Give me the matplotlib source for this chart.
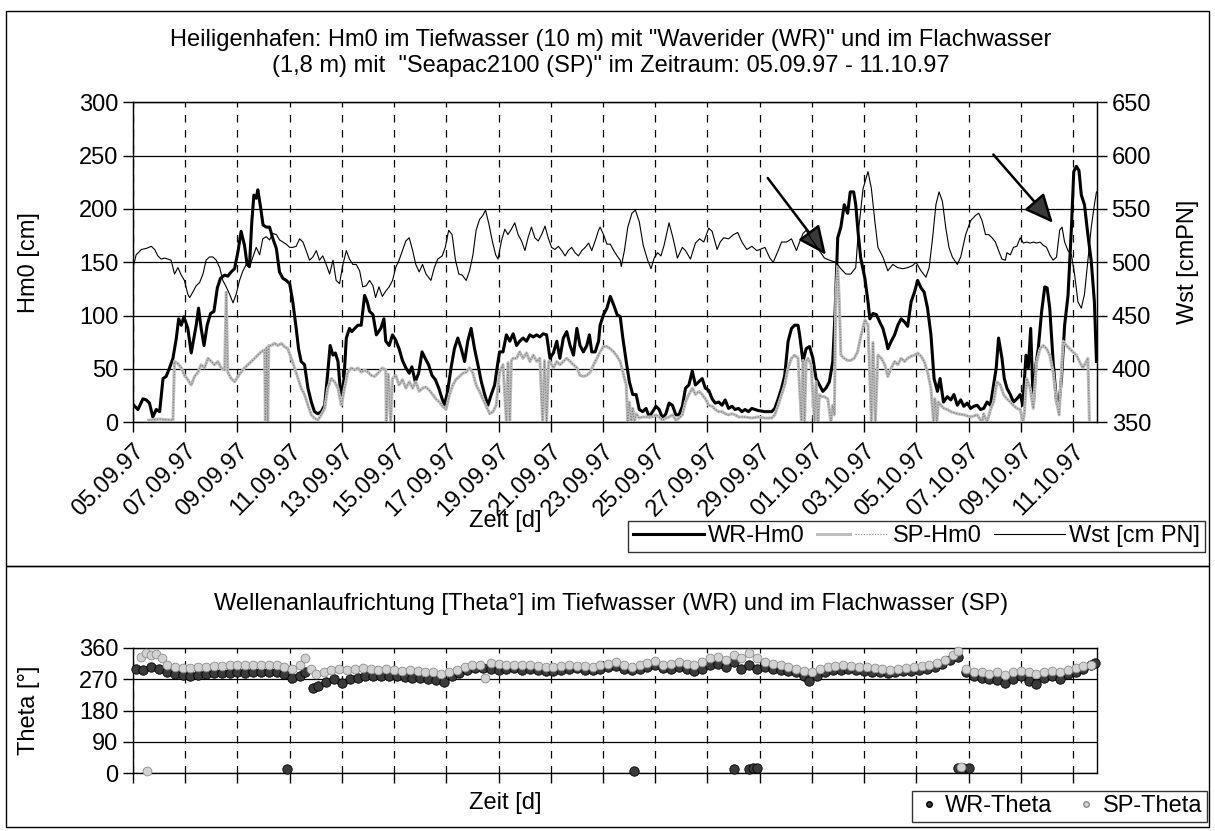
import matplotlib
matplotlib.use("Agg")
import matplotlib.pyplot as plt
from matplotlib.lines import Line2D
from matplotlib.patches import Rectangle
from matplotlib.legend_handler import HandlerTuple

plt.rcParams['font.family'] = ['Liberation Sans', 'DejaVu Sans']
FS = 17

# time axis: days after 05.09.97 00:00, labelled every second day
tick_days = list(range(0, 37, 2))
date_labels = ["05.09.97", "07.09.97", "09.09.97", "11.09.97", "13.09.97",
               "15.09.97", "17.09.97", "19.09.97", "21.09.97", "23.09.97",
               "25.09.97", "27.09.97", "29.09.97", "01.10.97", "03.10.97",
               "05.10.97", "07.10.97", "09.10.97", "11.10.97"]

# Hm0 Waverider (deep water, 10 m) [cm]
wr_t = [0.03, 0.19, 0.38, 0.51, 0.63, 0.76, 0.89, 1.02, 1.15, 1.27,
        1.40, 1.53, 1.66, 1.75, 1.85, 1.95, 2.10, 2.23, 2.36, 2.42,
        2.51, 2.61, 2.72, 2.84, 2.97, 3.10, 3.23, 3.35, 3.51, 3.63,
        3.76, 3.89, 4.02, 4.14, 4.27, 4.37, 4.46, 4.55, 4.63, 4.72,
        4.78, 4.89, 4.98, 5.10, 5.23, 5.36, 5.49, 5.61, 5.74, 5.87,
        6.00, 6.12, 6.25, 6.34, 6.44, 6.57, 6.70, 6.83, 6.95, 7.08,
        7.21, 7.34, 7.46, 7.55, 7.66, 7.75, 7.85, 7.98, 8.08, 8.17,
        8.29, 8.38, 8.49, 8.61, 8.74, 8.87, 8.97, 9.06, 9.19, 9.32,
        9.49, 9.61, 9.68, 9.81, 9.94, 10.06, 10.19, 10.32, 10.45, 10.58,
        10.68, 10.81, 10.94, 11.07, 11.19, 11.32, 11.45, 11.58, 11.71, 11.84,
        11.93, 12.05, 12.18, 12.31, 12.44, 12.57, 12.70, 12.82, 12.95, 13.08,
        13.21, 13.34, 13.47, 13.59, 13.72, 13.85, 13.98, 14.04, 14.17, 14.30,
        14.43, 14.56, 14.69, 14.81, 14.94, 15.07, 15.20, 15.33, 15.46, 15.58,
        15.71, 15.84, 15.97, 16.10, 16.23, 16.35, 16.48, 16.61, 16.74, 16.87,
        17.00, 17.12, 17.25, 17.38, 17.48, 17.57, 17.70, 17.83, 17.89, 18.02,
        18.15, 18.28, 18.41, 18.54, 18.66,
        18.76, 18.89, 19.01, 19.14, 19.27, 19.39, 19.52, 19.65, 19.77, 19.90,
        20.03, 20.15, 20.28, 20.41, 20.53, 20.66, 20.79, 20.91, 21.04, 21.16,
        21.29, 21.42, 21.54, 21.67, 21.80, 21.92, 22.05, 22.18, 22.30, 22.43,
        22.56, 22.68, 22.81, 22.94, 23.06, 23.19, 23.32, 23.44, 23.57, 23.70,
        23.82, 23.95, 24.20, 24.46, 24.58, 24.71, 24.84, 24.96, 25.09, 25.22,
        25.34, 25.47, 25.53, 25.66, 25.78, 25.91, 26.04, 26.16, 26.29, 26.42,
        26.54, 26.67, 26.80, 26.89, 26.99, 27.11, 27.24, 27.37, 27.47, 27.60,
        27.68, 27.77, 27.87,
        28.03, 28.15, 28.22, 28.34, 28.47, 28.60, 28.72, 28.85, 28.91, 29.04,
        29.17, 29.29, 29.42, 29.55, 29.67, 29.80, 29.93, 30.05, 30.18, 30.30,
        30.43, 30.56, 30.68, 30.81, 30.91, 31.04, 31.19, 31.32, 31.44, 31.57,
        31.70, 31.82, 31.95, 32.08, 32.20, 32.33, 32.46, 32.58, 32.71, 32.84,
        32.94, 33.06, 33.15, 33.28, 33.37, 33.47, 33.60, 33.72, 33.85, 33.98,
        34.08, 34.20, 34.29, 34.38, 34.48, 34.58, 34.67, 34.80, 34.92, 35.01,
        35.11, 35.24, 35.37, 35.47, 35.56, 35.68, 35.81, 35.94, 36.03, 36.13,
        36.23, 36.32, 36.44, 36.57, 36.70, 36.82, 36.90]
wr_hm0 = [16, 12, 22, 21, 18, 5, 12, 10, 41, 43,
          51, 60, 79, 97, 91, 99, 88, 65, 83, 91,
          107, 88, 72, 91, 102, 104, 126, 135, 138, 137,
          141, 144, 160, 179, 166, 148, 146, 188, 213, 210,
          218, 201, 185, 183, 183, 172, 163, 141, 135, 133,
          130, 113, 88, 69, 57, 54, 32, 19, 10, 8,
          10, 16, 47, 72, 63, 65, 57, 19, 41, 79,
          88, 85, 88, 91, 91, 119, 113, 104, 101, 82,
          88, 97, 76, 72, 82, 77, 69, 58, 51, 46,
          52, 38, 46, 66, 60, 54, 44, 40, 32, 22,
          16, 29, 51, 69, 79, 69, 57, 76, 88, 69,
          54, 38, 26, 16, 26, 35, 57, 66, 66, 82,
          76, 83, 72, 76, 79, 76, 82, 80, 82, 80,
          83, 82, 60, 65, 76, 60, 79, 85, 72, 63,
          88, 72, 66, 72, 82, 66, 66, 76, 91, 101,
          107, 118, 110, 101, 99,
          79, 57, 38, 26, 26, 12, 10, 13, 5, 10,
          15, 12, 4, 8, 18, 16, 7, 7, 15, 32,
          35, 48, 35, 38, 41, 32, 30, 22, 18, 19,
          16, 21, 13, 15, 12, 13, 10, 12, 10, 13,
          12, 11, 10, 10, 13, 22, 32, 44, 76, 88,
          91, 91, 82, 57, 69, 71, 60, 41, 35, 29,
          32, 38, 57, 104, 173, 183, 204, 196, 216, 216,
          204, 178, 154,
          135, 113, 97, 102, 101, 94, 88, 76, 69, 76,
          82, 91, 97, 94, 90, 113, 122, 133, 126, 122,
          107, 82, 41, 29, 41, 19, 24, 21, 26, 16,
          21, 15, 18, 13, 15, 16, 12, 13, 19, 16,
          32, 51, 79, 60, 41, 32, 26, 19, 22, 26,
          16, 63, 51, 88, 16, 54, 69, 104, 127, 126,
          107, 57, 19, 19, 41, 91, 119, 182, 235, 240,
          236, 213, 204, 176, 151, 113, 57]

# Hm0 Seapac2100 (shallow water, 1.8 m) [cm]; zeros are data gaps
sp_t = [0.60, 1.00, 1.53, 1.59, 1.72, 1.85, 1.97, 2.10, 2.23, 2.36,
        2.49, 2.61, 2.74, 2.87, 3.00, 3.12, 3.25, 3.38, 3.51, 3.57,
        3.63, 3.76, 3.89, 4.02, 4.14, 4.27, 4.40, 4.53, 4.66, 4.78,
        4.91, 5.04, 5.07, 5.12, 5.16, 5.20, 5.29, 5.42, 5.55, 5.68,
        5.80, 5.93, 6.06, 6.19, 6.32, 6.44, 6.57, 6.70, 6.83, 6.95,
        7.08, 7.21, 7.34, 7.46, 7.59, 7.72, 7.85, 7.98, 8.10, 8.23,
        8.36, 8.49, 8.61, 8.74, 8.87, 9.00, 9.12, 9.25,
        9.42, 9.55, 9.68, 9.70, 9.78, 9.87, 9.94, 10.06, 10.19, 10.32,
        10.45, 10.58, 10.71, 10.83, 10.96, 11.09, 11.22, 11.35, 11.48, 11.60,
        11.73, 11.86, 11.99, 12.12, 12.25, 12.37, 12.50, 12.63, 12.76, 12.89,
        13.02, 13.14, 13.27, 13.40, 13.53, 13.66, 13.79, 13.91, 14.04, 14.17,
        14.30, 14.36, 14.43, 14.49, 14.56, 14.69, 14.81, 14.94, 15.07, 15.20,
        15.33, 15.46, 15.58, 15.69, 15.76, 15.84, 15.92, 15.97, 16.10, 16.23,
        16.35, 16.48, 16.61, 16.74, 16.87, 17.00, 17.12, 17.25, 17.38, 17.51,
        17.64, 17.77, 17.89, 18.02, 18.15, 18.28, 18.41, 18.54, 18.66,
        18.76, 18.89, 18.95, 19.01, 19.08, 19.14, 19.20, 19.27, 19.39, 19.52,
        19.65, 19.77, 19.90, 20.03, 20.15, 20.28, 20.41, 20.53, 20.66, 20.79,
        20.91, 21.04, 21.16, 21.29, 21.42, 21.54, 21.67, 21.80, 21.92, 22.05,
        22.18, 22.30, 22.43, 22.56, 22.68, 22.81, 22.94, 23.06, 23.19, 23.44,
        23.70, 23.95, 24.20, 24.46, 24.58, 24.71, 24.84, 24.96, 25.09, 25.22,
        25.34, 25.47, 25.60, 25.66, 25.72, 25.78, 25.85, 25.97, 26.10, 26.16,
        26.23, 26.29, 26.35, 26.48, 26.61, 26.73, 26.80, 26.86, 26.92, 26.99,
        27.05, 27.11, 27.24, 27.37, 27.49, 27.62, 27.75, 27.87,
        28.03, 28.15, 28.28, 28.34, 28.43, 28.53, 28.66, 28.79, 28.91, 29.04,
        29.17, 29.29, 29.42, 29.55, 29.67, 29.80, 29.93, 30.05, 30.18, 30.30,
        30.43, 30.56, 30.66, 30.71, 30.79, 30.84, 30.94, 31.06, 31.19, 31.32,
        31.57, 31.82, 32.08, 32.33, 32.52, 32.58, 32.71, 32.84, 32.96, 33.09,
        33.22, 33.34, 33.47, 33.60, 33.72, 33.85, 33.98, 34.08, 34.13, 34.23,
        34.36, 34.48, 34.61, 34.74, 34.86, 34.99, 35.11, 35.24, 35.37, 35.47,
        35.62, 35.75, 35.87, 36.00, 36.13, 36.25, 36.38, 36.51, 36.57, 36.63]
sp_hm0 = [2, 3, 2, 57, 55, 51, 44, 40, 35, 43,
          47, 54, 51, 60, 57, 54, 57, 51, 49, 122,
          47, 41, 38, 43, 47, 51, 54, 57, 60, 63,
          66, 68, 0, 70, 0, 72, 72, 74, 72, 74,
          71, 69, 60, 51, 41, 32, 26, 16, 7, 4,
          2, 7, 13, 32, 41, 38, 32, 16, 32, 47,
          51, 49, 51, 47, 49, 47, 44, 43,
          47, 51, 49, 0, 45, 0, 41, 44, 35, 40,
          32, 38, 32, 38, 29, 32, 33, 30, 26, 22,
          19, 15, 12, 26, 35, 40, 43, 46, 47, 51,
          46, 35, 29, 22, 15, 8, 10, 16, 47, 54,
          0, 56, 0, 58, 60, 60, 66, 60, 65, 57,
          63, 57, 60, 0, 58, 0, 57, 57, 51, 57,
          54, 57, 60, 57, 54, 51, 44, 43, 44, 47,
          54, 60, 66, 71, 71, 69, 66, 62, 57,
          47, 35, 0, 19, 0, 13, 0, 8, 4, 5,
          5, 5, 5, 7, 5, 2, 4, 5, 7, 2,
          4, 7, 19, 26, 32, 26, 29, 26, 22, 16,
          15, 12, 10, 10, 8, 7, 8, 7, 5, 5,
          4, 5, 4, 4, 7, 16, 26, 35, 51, 60,
          63, 60, 0, 58, 0, 57, 60, 54, 0, 38,
          0, 26, 24, 24, 22, 0, 16, 7, 119, 147,
          113, 63, 60, 58, 58, 60, 66, 80,
          96, 91, 0, 75, 0, 63, 60, 54, 43, 51,
          57, 54, 60, 57, 60, 62, 63, 65, 62, 57,
          47, 32, 0, 22, 0, 19, 16, 13, 12, 10,
          8, 7, 5, 7, 0, 8, 0, 12, 19, 38,
          35, 26, 22, 19, 16, 13, 12, 0, 7, 41,
          32, 13, 57, 69, 72, 69, 63, 47, 19, 7,
          76, 72, 69, 66, 63, 57, 51, 57, 60, 0]

# water level [cm PN]
wst_t = [0.03, 0.12, 0.32, 0.51, 0.70, 0.83, 0.95, 1.08, 1.21, 1.34,
         1.46, 1.59, 1.72, 1.85, 1.97, 2.10, 2.17, 2.29, 2.42, 2.55,
         2.68, 2.80, 2.93, 3.06, 3.19, 3.32, 3.44, 3.57, 3.70, 3.83,
         3.95, 4.08, 4.21, 4.34, 4.46, 4.55, 4.72, 4.85, 4.97, 5.10,
         5.23, 5.36, 5.49, 5.61, 5.74, 5.87, 6.00, 6.12, 6.25, 6.38,
         6.51, 6.63, 6.76, 6.89, 7.02, 7.14, 7.27, 7.40, 7.53, 7.66,
         7.78, 7.91, 8.04, 8.17, 8.29, 8.42, 8.55, 8.68, 8.80, 8.93,
         9.06, 9.19, 9.29,
         9.42, 9.55, 9.68, 9.81, 9.94, 10.06, 10.19, 10.32, 10.45, 10.58,
         10.71, 10.83, 10.96, 11.09, 11.22, 11.41, 11.54, 11.67, 11.84, 11.96,
         12.09, 12.22, 12.35, 12.48, 12.61, 12.76, 12.89, 13.02, 13.14, 13.27,
         13.40, 13.50, 13.63, 13.76, 13.89, 13.98, 14.11, 14.24, 14.36, 14.49,
         14.62, 14.75, 14.88, 15.01, 15.13, 15.26, 15.39, 15.52, 15.65, 15.78,
         15.90, 16.03, 16.16, 16.29, 16.42, 16.55, 16.67, 16.80, 16.93, 17.06,
         17.19, 17.32, 17.45, 17.57, 17.70, 17.83, 17.89, 18.02, 18.15, 18.28,
         18.41, 18.54, 18.66,
         18.70, 18.82, 18.95, 19.11, 19.24, 19.39, 19.54, 19.71, 19.84, 19.96,
         20.09, 20.22, 20.34, 20.53, 20.68, 20.85, 21.04, 21.16, 21.35, 21.54,
         21.70, 21.86, 22.05, 22.18, 22.37, 22.49, 22.62, 22.81, 23.00, 23.16,
         23.32, 23.51, 23.70, 23.89, 24.01, 24.20, 24.39, 24.52, 24.71, 24.84,
         25.03, 25.22, 25.41, 25.53, 25.66, 25.78, 25.97, 26.23, 26.48, 26.67,
         26.92, 27.11, 27.30, 27.49, 27.68,
         27.77, 27.96, 28.15, 28.28, 28.41, 28.53, 28.72, 28.91, 29.10, 29.29,
         29.48, 29.67, 29.86, 29.99, 30.18, 30.37, 30.49, 30.62, 30.75, 30.87,
         31.00, 31.13, 31.25, 31.38, 31.57, 31.70, 31.89, 32.08, 32.27, 32.39,
         32.52, 32.65, 32.77, 32.90, 33.03, 33.15, 33.28, 33.41, 33.47, 33.60,
         33.72, 33.85, 33.98, 34.10, 34.23, 34.36, 34.48, 34.61, 34.74, 34.86,
         34.99, 35.11, 35.24, 35.37, 35.49, 35.58, 35.68, 35.81, 35.94, 36.06,
         36.19, 36.32, 36.44, 36.57, 36.70, 36.82, 36.90]
wst = [498, 507, 512, 513, 515, 512, 506, 503, 504, 503,
       502, 489, 495, 488, 483, 470, 467, 472, 478, 481,
       489, 502, 505, 505, 502, 495, 483, 477, 470, 462,
       470, 483, 492, 498, 495, 502, 514, 507, 522, 524,
       521, 527, 526, 521, 519, 517, 514, 514, 515, 522,
       519, 511, 502, 505, 511, 502, 506, 498, 489, 502,
       483, 480, 498, 511, 503, 498, 498, 492, 477, 478,
       483, 478, 467,
       477, 468, 473, 477, 483, 495, 502, 511, 520, 523,
       511, 498, 491, 498, 489, 483, 495, 503, 506, 514,
       530, 526, 502, 489, 488, 483, 492, 507, 530, 540,
       544, 549, 536, 520, 507, 503, 520, 531, 526, 531,
       537, 526, 520, 511, 523, 533, 523, 520, 526, 534,
       523, 514, 512, 515, 511, 506, 511, 514, 509, 506,
       511, 514, 518, 511, 520, 530, 533, 526, 517, 517,
       511, 506, 502,
       496, 511, 533, 546, 549, 538, 516, 502, 494, 504,
       509, 506, 516, 537, 523, 504, 514, 511, 503, 518,
       522, 519, 532, 529, 512, 519, 523, 522, 526, 528,
       519, 512, 515, 511, 512, 514, 504, 500, 511, 519,
       519, 522, 511, 519, 527, 530, 522, 513, 504, 502,
       500, 494, 489, 489, 495,
       526, 569, 585, 569, 539, 514, 505, 492, 498, 495,
       494, 495, 497, 500, 492, 486, 495, 522, 554, 566,
       557, 532, 514, 505, 498, 505, 526, 539, 544, 546,
       539, 526, 526, 523, 519, 511, 503, 502, 509, 507,
       514, 515, 523, 518, 519, 518, 519, 518, 519, 516,
       514, 507, 502, 505, 530, 533, 519, 511, 507, 489,
       463, 457, 470, 502, 533, 554, 566]

# wave direction Theta [deg]
wr_theta_t = [0.1, 0.4, 0.7, 1.0, 1.3, 1.6, 1.9, 2.2, 2.5, 2.8,
              3.1, 3.4, 3.7, 4.0, 4.3, 4.6, 4.9, 5.2, 5.5, 5.8,
              6.1, 6.4, 6.6, 6.9, 7.1, 7.4, 7.7, 8.0, 8.3, 8.6,
              8.9, 9.2, 9.5, 9.8, 10.1, 10.4, 10.7, 11.0, 11.3, 11.6,
              11.9, 12.2, 12.5, 12.8, 13.1, 13.4, 13.7, 14.0, 14.3, 14.6,
              14.9, 15.2, 15.5, 15.8, 16.1, 16.4, 16.7, 17.0, 17.3, 17.6,
              17.9, 18.2, 18.5, 18.8, 19.1, 19.4, 19.7, 20.0, 20.3, 20.6,
              20.9, 21.2, 21.5, 21.8, 22.1, 22.4, 22.7, 23.0, 23.3, 23.6,
              23.9, 24.2, 24.5, 24.8, 25.1, 25.4, 25.7, 25.9, 26.2, 26.5,
              26.8, 27.1, 27.4, 27.7, 28.0, 28.3, 28.6, 28.9, 29.2, 29.5,
              29.8, 30.1, 30.4, 30.7, 31.0, 31.3, 31.6, 31.9, 32.2, 32.5,
              32.8, 33.1, 33.4, 33.7, 34.0, 34.3, 34.6, 34.9, 35.2, 35.5,
              35.8, 36.1, 36.4, 36.7, 36.85,
              5.9, 19.2, 23.0, 23.6, 23.75, 23.9, 31.6, 31.8, 32.0]
wr_theta = [300, 298, 306, 300, 292, 285, 282, 280, 283, 286,
            287, 289, 288, 290, 289, 291, 290, 292, 290, 285,
            275, 280, 292, 245, 250, 262, 270, 258, 272, 275,
            278, 280, 279, 278, 278, 276, 275, 273, 271, 268,
            263, 278, 288, 296, 302, 303, 300, 298, 300, 301,
            298, 300, 296, 293, 295, 297, 300, 302, 298, 296,
            300, 305, 308, 300, 296, 300, 305, 310, 302, 300,
            305, 300, 295, 300, 310, 315, 305, 320, 300, 310,
            300, 305, 300, 298, 295, 290, 280, 265, 280, 292,
            296, 298, 300, 298, 295, 292, 290, 288, 290, 293,
            295, 298, 300, 305, 315, 325, 335, 290, 280, 275,
            270, 268, 260, 270, 278, 265, 255, 275, 280, 270,
            285, 290, 300, 310, 318,
            12, 5, 12, 12, 14, 13, 15, 15, 15]

sp_theta_t = [0.3, 0.5, 0.7, 0.9, 1.1, 1.3, 1.6, 1.9, 2.2, 2.5,
              2.8, 3.1, 3.4, 3.7, 4.0, 4.3, 4.6, 4.9, 5.2, 5.5,
              5.8, 6.1, 6.4, 6.6, 6.8, 7.0, 7.3, 7.6, 7.9, 8.2,
              8.5, 8.8, 9.1, 9.4, 9.7, 10.0, 10.3, 10.6, 10.9, 11.2,
              11.5, 11.8, 12.1, 12.4, 12.7, 13.0, 13.3, 13.5, 13.7, 14.0,
              14.3, 14.6, 14.9, 15.2, 15.5, 15.8, 16.1, 16.4, 16.7, 17.0,
              17.3, 17.6, 17.9, 18.2, 18.5, 18.8, 19.1, 19.4, 19.7, 20.0,
              20.3, 20.6, 20.9, 21.2, 21.5, 21.8, 22.1, 22.4, 22.7, 23.0,
              23.3, 23.6, 23.9, 24.2, 24.5, 24.8, 25.1, 25.4, 25.7, 26.0,
              26.3, 26.6, 26.9, 27.2, 27.5, 27.8, 28.1, 28.4, 28.7, 29.0,
              29.3, 29.6, 29.9, 30.2, 30.5, 30.8, 31.1, 31.4, 31.6, 31.9,
              32.2, 32.5, 32.8, 33.1, 33.4, 33.7, 34.0, 34.3, 34.6, 34.9,
              35.2, 35.5, 35.8, 36.1, 36.4, 36.7,
              0.55, 31.7]
sp_theta = [335, 345, 340, 343, 330, 310, 305, 303, 302, 305,
            305, 308, 308, 310, 310, 311, 312, 310, 312, 310,
            305, 300, 310, 330, 300, 285, 290, 298, 300, 296,
            300, 302, 300, 298, 300, 298, 295, 296, 294, 292,
            290, 285, 290, 298, 305, 310, 312, 275, 318, 315,
            312, 311, 310, 310, 307, 305, 306, 308, 310, 309,
            308, 306, 310, 315, 320, 310, 305, 310, 318, 322,
            312, 315, 320, 315, 310, 320, 330, 335, 325, 340,
            330, 345, 330, 320, 315, 310, 305, 300, 295, 290,
            300, 305, 308, 310, 308, 306, 305, 303, 300, 298,
            300, 302, 304, 308, 312, 318, 325, 340, 350, 300,
            292, 290, 285, 290, 282, 290, 295, 290, 285, 292,
            295, 290, 298, 302, 308, 312,
            5, 18]

# arrows marking the two storm events (Hm0 axis units)
arrow_tails = [(24.31, 229.0), (32.95, 251.0)]
arrow_heads = [(26.54, 157.0), (35.23, 187.0)]

X_MAX = 36.92
SP_BASE = '#bdbdbd'
SP_DOTS = '#7d7d7d'

fig = plt.figure(figsize=(12.15, 8.31), dpi=100)
W, H = 1215.0, 831.0


def fx(px):
    return px / W


def fy(py):
    return 1.0 - py / H


# chart frames
for top, bottom in [(11, 566), (566, 827)]:
    fig.add_artist(Rectangle((fx(6), fy(bottom)), fx(1209) - fx(6), (bottom - top) / H,
                             transform=fig.transFigure, fill=False,
                             edgecolor='black', linewidth=1.0))


def style_axes(ax):
    ax.set_xlim(0, X_MAX)
    ax.set_xticks(tick_days)
    ax.yaxis.grid(True, color='black', linewidth=0.9)
    ax.xaxis.grid(True, color='black', linewidth=0.9, linestyle=(0, (6, 6)))
    ax.set_axisbelow(True)
    ax.tick_params(axis='both', direction='out', length=7, width=1,
                   labelsize=FS, colors='black')
    for s in ax.spines.values():
        s.set_linewidth(1.0)
        s.set_color('black')


# ---------------- upper chart: Hm0 and water level ----------------
ax = fig.add_axes([fx(133), fy(422.3), (1097 - 133) / W, (422.3 - 102.3) / H])
style_axes(ax)
ax.set_ylim(0, 300)
ax.set_yticks(range(0, 301, 50))
ax.set_xticklabels(date_labels, rotation=45, ha='right', va='top',
                   rotation_mode='anchor')
ax.tick_params(axis='x', pad=6)
ax.plot(wr_t, wr_hm0, color='black', linewidth=2.2, zorder=3,
        solid_joinstyle='round')
# shallow-water series: light grey band with a darker dotted texture
ax.plot(sp_t, sp_hm0, color=SP_BASE, linewidth=2.2, zorder=4)
ax.plot(sp_t, sp_hm0, color=SP_DOTS, linewidth=0.8, linestyle=(0, (1, 1.5)), zorder=4)
ax.set_ylabel('Hm0 [cm]', fontsize=FS)
ax.yaxis.set_label_coords(-0.0965, 0.5)

ax2 = ax.twinx()
ax2.set_xlim(0, X_MAX)
ax2.set_ylim(350, 650)
ax2.set_yticks(range(350, 651, 50))
ax2.tick_params(axis='y', direction='out', length=7, width=1, labelsize=FS)
ax2.plot(wst_t, wst, color='black', linewidth=0.8, zorder=5)
ax2.set_ylabel('Wst [cmPN]', fontsize=FS)
ax2.yaxis.set_label_coords(1.083, 0.5)

for tail, head in zip(arrow_tails, arrow_heads):
    ax.annotate('', xy=head, xytext=tail, zorder=6,
                arrowprops=dict(arrowstyle='-|>,head_length=1.1,head_width=0.5',
                                mutation_scale=16, linewidth=1.8,
                                edgecolor='black', facecolor='#3a3a3a',
                                shrinkA=0, shrinkB=0))

fig.text(fx(611), fy(40), 'Heiligenhafen: Hm0 im Tiefwasser (10 m) mit "Waverider (WR)" und im Flachwasser',
         ha='center', va='center', fontsize=FS)
fig.text(fx(611), fy(66), '(1,8 m) mit  "Seapac2100 (SP)" im Zeitraum: 05.09.97 - 11.10.97',
         ha='center', va='center', fontsize=FS)
fig.text(fx(505), fy(521), 'Zeit [d]', ha='center', va='center', fontsize=FS)

sp_handle = (Line2D([], [], color=SP_BASE, linewidth=2.2),
             Line2D([], [], color=SP_DOTS, linewidth=0.8, linestyle=(0, (1, 1.5))))
top_handles = [Line2D([], [], color='black', linewidth=2.2),
               sp_handle,
               Line2D([], [], color='black', linewidth=0.8)]
leg = fig.legend(top_handles, ['WR-Hm0', 'SP-Hm0', 'Wst [cm PN]'],
                 handler_map={tuple: HandlerTuple(ndivide=None)},
                 loc='lower left', ncol=3, mode='expand',
                 bbox_to_anchor=(fx(628), fy(552), fx(1205) - fx(628), 31 / H),
                 fontsize=FS, frameon=True, fancybox=False, edgecolor='black',
                 handlelength=3.0, handletextpad=0.2, borderpad=0.2,
                 borderaxespad=0, columnspacing=1.0)
leg.get_frame().set_linewidth(1.0)

# ---------------- lower chart: wave direction ----------------
bx = fig.add_axes([fx(133), fy(773), (1097 - 133) / W, (773 - 648) / H])
style_axes(bx)
bx.set_ylim(0, 360)
bx.set_yticks(range(0, 361, 90))
bx.set_xticklabels([])
bx.scatter(wr_theta_t, wr_theta, s=46, marker='o', color='#3a3a3a',
           edgecolors='black', linewidths=0.6, zorder=3, clip_on=False)
bx.scatter(sp_theta_t, sp_theta, s=40, marker='o', color='#d2d2d2',
           edgecolors='#8c8c8c', linewidths=0.6, zorder=4, clip_on=False)
bx.set_ylabel('Theta [°]', fontsize=FS)
bx.yaxis.set_label_coords(-0.0965, 0.5)

fig.text(fx(611), fy(604), 'Wellenanlaufrichtung [Theta°] im Tiefwasser (WR) und im Flachwasser (SP)',
         ha='center', va='center', fontsize=FS)
fig.text(fx(505), fy(803), 'Zeit [d]', ha='center', va='center', fontsize=FS)

bot_handles = [Line2D([], [], linestyle='none', marker='o', markersize=4,
                      color='#3a3a3a', markeredgecolor='black'),
               Line2D([], [], linestyle='none', marker='o', markersize=4,
                      color='#d2d2d2', markeredgecolor='#8c8c8c')]
leg2 = fig.legend(bot_handles, ['WR-Theta', 'SP-Theta'], loc='lower left', ncol=2,
                  mode='expand',
                  bbox_to_anchor=(fx(912), fy(822), fx(1207) - fx(912), 32 / H),
                  fontsize=FS, frameon=True, fancybox=False, edgecolor='black',
                  handlelength=1.0, handletextpad=0.2, borderpad=0.2,
                  borderaxespad=0, columnspacing=0.8)
leg2.get_frame().set_linewidth(1.0)

fig.savefig('out.png', dpi=100)
